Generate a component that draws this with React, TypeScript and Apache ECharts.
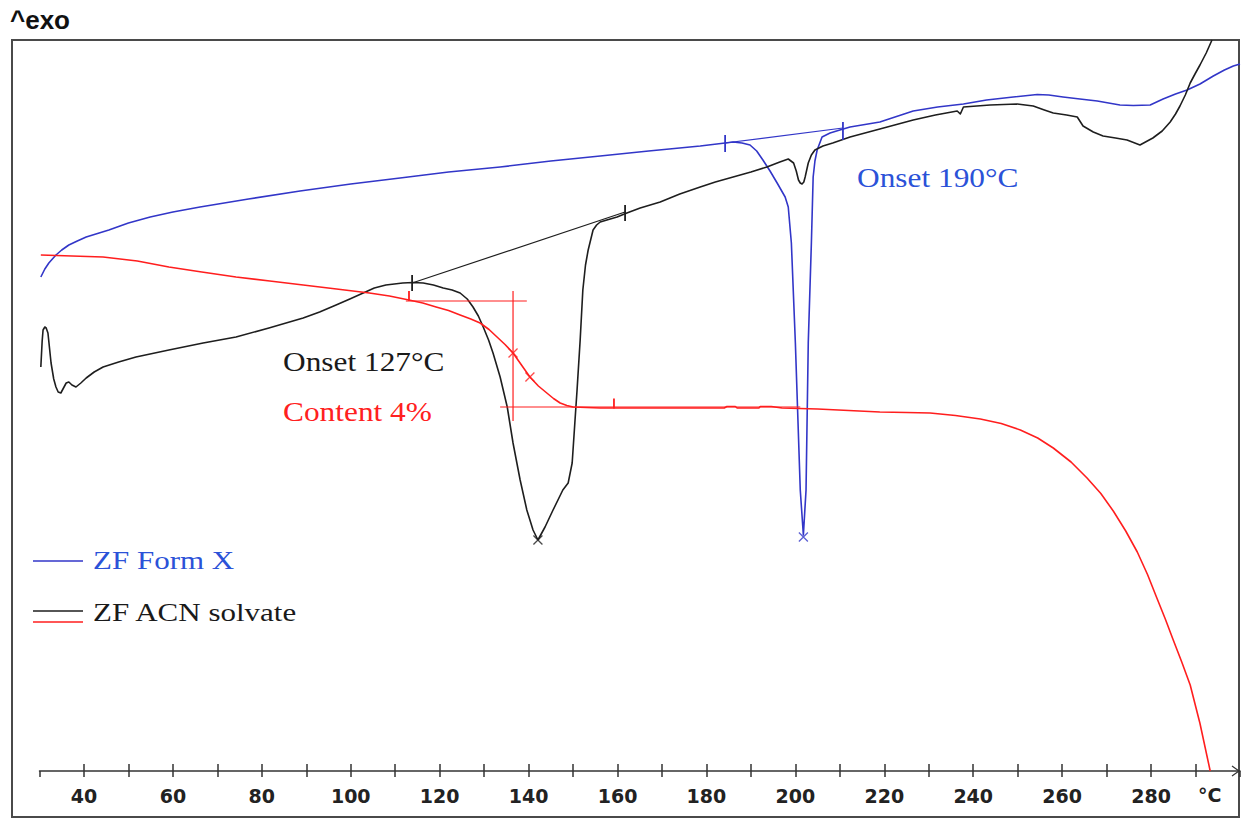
import { useEffect, useRef } from 'react';
import * as echarts from 'echarts';

// Temperature axis (°C)
const tempMin = 30;
const tempMax = 300;
const tempStep = 10;
const labelledTemps = [40, 60, 80, 100, 120, 140, 160, 180, 200, 220, 240, 260, 280];

// DSC heat flow (a.u., exo up) — ZF Form X
const formXDsc: [number, number][] = [
  [30.3, 49.4], [31.2, 50.2], [32.1, 50.8], [33.7, 51.6], [35.0, 52.1], [36.6, 52.6], [38.5, 53.0],
  [40.5, 53.4], [45.6, 54.1], [50.0, 54.8], [54.9, 55.4], [60.0, 55.9], [66.1, 56.4], [77.0, 57.2],
  [88.6, 58.0], [100.0, 58.7], [111.1, 59.3], [122.0, 59.9], [133.6, 60.4], [145.0, 61.0],
  [156.1, 61.5], [167.0, 62.0], [178.6, 62.5], [184.2, 62.8], [186.0, 62.9], [188.0, 62.8],
  [189.8, 62.6], [191.3, 62.0], [192.7, 61.1], [194.3, 60.0], [195.9, 58.8], [197.7, 57.4],
  [198.4, 56.4], [199.1, 52.8], [200.0, 42.8], [201.1, 28.1], [201.8, 23.6], [202.4, 28.1],
  [202.9, 42.8], [203.6, 52.8], [204.0, 59.4], [204.4, 61.0], [204.9, 62.1], [206.0, 63.4],
  [207.8, 63.8], [210.0, 64.1], [212.3, 64.4], [219.0, 64.9], [226.5, 66.0], [232.0, 66.4],
  [237.8, 66.7], [243.0, 67.1], [249.0, 67.4], [254.4, 67.65], [257.0, 67.6], [260.2, 67.4],
  [264.0, 67.2], [267.9, 67.0], [273.0, 66.6], [276.0, 66.55], [279.8, 66.6], [282.7, 67.2],
  [285.5, 67.7], [288.1, 68.1], [291.0, 68.7], [294.0, 69.5], [296.5, 70.1], [298.5, 70.5],
  [300.0, 70.7],
];

// DSC heat flow (a.u.) — ZF ACN solvate
const acnDsc: [number, number][] = [
  [30.3, 40.4], [30.6, 43.0], [30.8, 44.1], [31.2, 44.4], [31.5, 44.3], [31.9, 43.8],
  [32.6, 40.8], [33.2, 39.2], [33.7, 38.4], [34.2, 37.9], [34.8, 37.8], [35.4, 38.3],
  [36.0, 38.8], [36.6, 38.9], [37.3, 38.6], [38.2, 38.4], [39.3, 38.8], [40.5, 39.3],
  [42.3, 39.9], [44.3, 40.4], [47.8, 40.9], [51.7, 41.4], [59.1, 42.1], [66.8, 42.8],
  [74.2, 43.4], [81.6, 44.3], [89.3, 45.3], [93.0, 45.9], [96.7, 46.6], [99.8, 47.2],
  [102.8, 47.8], [105.3, 48.3], [107.9, 48.6], [111.7, 48.8], [114.0, 48.85], [116.3, 48.8],
  [118.6, 48.6], [120.8, 48.3], [122.8, 48.1], [124.6, 47.8], [126.2, 47.2], [127.5, 46.4],
  [128.7, 45.5], [129.8, 44.4], [131.0, 43.1], [132.0, 41.8], [133.6, 39.4], [135.2, 36.4],
  [136.5, 32.8], [138.1, 29.1], [139.6, 26.1], [141.0, 24.1], [142.1, 23.1], [143.7, 24.4],
  [145.5, 26.1], [147.7, 28.1], [148.9, 28.8], [149.8, 30.8], [150.4, 34.8], [150.9, 38.1],
  [151.6, 43.1], [152.2, 48.1], [152.8, 50.6], [153.4, 52.1], [154.5, 54.1], [155.3, 54.6],
  [156.1, 54.9], [157.6, 55.1], [159.9, 55.4], [162.1, 55.8], [165.1, 56.3], [169.6, 56.9],
  [174.0, 57.7], [178.6, 58.4], [182.0, 58.9], [186.0, 59.4], [190.0, 59.9], [193.6, 60.4],
  [196.5, 60.9], [198.4, 61.2], [199.6, 60.8], [200.2, 60.0], [200.7, 59.1], [201.1, 58.8],
  [201.5, 58.7], [201.9, 58.9], [202.2, 59.4], [202.9, 60.8], [203.6, 61.6], [204.4, 62.1],
  [206.2, 62.5], [208.4, 62.8], [212.3, 63.4], [219.0, 64.2], [226.5, 65.1], [231.5, 65.6],
  [236.4, 66.0], [237.1, 65.7], [237.8, 66.4], [243.8, 66.6], [249.9, 66.7], [253.5, 66.5],
  [256.0, 66.1], [258.0, 65.8], [261.0, 65.6], [263.4, 65.4], [264.7, 64.5], [267.0, 63.9],
  [269.2, 63.5], [272.0, 63.3], [274.6, 63.1], [277.5, 62.6], [280.4, 63.3], [282.5, 64.0],
  [284.3, 64.9], [285.5, 65.7], [286.5, 66.5], [287.7, 67.6], [288.8, 68.8], [290.0, 69.8],
  [291.0, 70.6], [292.4, 71.8], [293.7, 73.1],
];

// TGA weight (%) — ZF ACN solvate
const acnTga: [number, number][] = [
  [30.3, 100.04], [44.3, 99.96], [52.0, 99.8], [59.1, 99.56], [66.5, 99.36], [74.2, 99.16],
  [81.8, 99.0], [89.3, 98.84], [96.8, 98.68], [104.2, 98.52], [108.7, 98.4], [113.1, 98.24],
  [116.2, 98.12], [119.2, 97.96], [122.0, 97.82], [124.6, 97.64], [127.0, 97.48], [129.1, 97.32],
  [131.1, 97.06], [132.9, 96.76], [134.7, 96.46], [136.5, 96.12], [138.4, 95.64], [140.3, 95.16],
  [142.2, 94.8], [144.1, 94.52], [145.6, 94.3], [147.1, 94.12], [148.6, 94.02], [150.0, 93.96],
  [156.1, 93.92], [178.6, 93.92], [184.0, 93.92], [184.6, 93.98], [186.5, 93.98], [186.9, 93.92],
  [191.8, 93.92], [192.1, 93.98], [194.6, 93.98], [197.0, 93.92], [205.0, 93.88], [212.0, 93.82],
  [219.0, 93.76], [225.0, 93.74], [230.3, 93.72], [236.0, 93.62], [241.6, 93.48], [246.3, 93.3],
  [250.6, 93.04], [254.5, 92.72], [258.0, 92.32], [262.0, 91.76], [265.6, 91.12], [268.7, 90.5],
  [271.5, 89.8], [274.3, 89.0], [276.9, 88.16], [279.2, 87.26], [281.3, 86.32], [283.2, 85.48],
  [284.9, 84.68], [286.9, 83.76], [288.8, 82.84], [291.0, 81.3], [293.3, 79.4],
];

// Evaluation annotations
const acnBaseline: [number, number][] = [[113.8, 48.8], [161.7, 55.9]];
const acnBaseTicks: [number, number][][] = [[[113.8, 49.6], [113.8, 48.0]], [[161.7, 56.6], [161.7, 55.0]]];
const formXBaseline: [number, number][] = [[184.2, 62.8], [210.7, 64.3]];
const formXBaseTicks: [number, number][][] = [[[184.2, 63.6], [184.2, 61.9]], [[210.7, 64.9], [210.7, 63.1]]];
const tgaUpperTangent: [number, number][] = [[112.4, 98.2], [139.6, 98.2]];
const tgaStepLine: [number, number][] = [[136.5, 98.6], [136.5, 93.4]];
const tgaLowerTangent: [number, number][] = [[133.6, 93.96], [201.1, 93.96]];
const tgaTicks: [number, number][][] = [[[113.1, 98.6], [113.1, 98.2]], [[159.2, 94.3], [159.2, 93.9]]];
const tgaCrosses: [number, number][] = [[136.5, 96.12], [140.3, 95.16]];
const acnPeak: [number, number][] = [[142.1, 23.1]];
const formXPeak: [number, number][] = [[201.8, 23.4]];

const BLUE = '#3236c8';
const BLACK = '#1e1e1e';
const RED = '#ff1e1e';
const CROSS = 'path://M0 0L10 10M10 0L0 10';

export default function App() {
  const ref = useRef<HTMLDivElement>(null);

  useEffect(() => {
    if (!ref.current) return;
    const chart = echarts.init(ref.current, undefined, { renderer: 'svg' });

    const seg = (data: [number, number][], color: string, yIdx: number, w = 1.2) => ({
      type: 'line',
      data,
      yAxisIndex: yIdx,
      symbol: 'none',
      silent: true,
      lineStyle: { color, width: w },
      z: 3,
    });
    const cross = (data: [number, number][], color: string, yIdx: number) => ({
      type: 'scatter',
      data,
      yAxisIndex: yIdx,
      symbol: CROSS,
      symbolSize: 9,
      silent: true,
      itemStyle: { color: 'none', borderColor: color, borderWidth: 1.3 },
      z: 4,
    });
    const curve = (name: string, data: [number, number][], color: string, yIdx: number) => ({
      name,
      type: 'line',
      data,
      yAxisIndex: yIdx,
      symbol: 'none',
      smooth: false,
      lineStyle: { color, width: 1.6, join: 'round' },
      z: 2,
    });

    const serif = '"Liberation Serif", "Times New Roman", serif';

    chart.setOption({
      animation: false,
      backgroundColor: '#ffffff',
      grid: { left: 39.5, right: 3, top: 40, bottom: 47, containLabel: false },
      xAxis: [
        {
          type: 'value',
          min: tempMin,
          max: tempMax,
          interval: tempStep,
          axisLine: { show: true, lineStyle: { color: '#333', width: 1.5 } },
          axisTick: { show: true, inside: true, length: 7, lineStyle: { color: '#333', width: 1.5 } },
          splitLine: { show: false },
          axisLabel: {
            margin: 15,
            color: '#222',
            fontFamily: '"DejaVu Sans", Verdana, sans-serif',
            fontWeight: 'bold',
            fontSize: 19,
            showMinLabel: false,
            showMaxLabel: false,
            formatter: (v: number) => (labelledTemps.includes(v) ? String(v) : ''),
          },
        },
        {
          type: 'value',
          min: tempMin,
          max: tempMax,
          interval: tempStep,
          position: 'bottom',
          axisLine: { show: false },
          axisTick: { show: true, inside: false, length: 6, lineStyle: { color: '#333', width: 1.5 } },
          splitLine: { show: false },
          axisLabel: { show: false },
        },
      ],
      yAxis: [
        { type: 'value', min: 0, max: 73.1, show: false },
        { type: 'value', min: 79.4, max: 108.64, show: false },
      ],
      series: [
        curve('ZF Form X', formXDsc, BLUE, 0),
        curve('ZF ACN solvate DSC', acnDsc, BLACK, 0),
        curve('ZF ACN solvate TGA', acnTga, RED, 1),
        seg(acnBaseline, BLACK, 0),
        ...acnBaseTicks.map((d) => seg(d, BLACK, 0, 1.8)),
        seg(formXBaseline, BLUE, 0),
        ...formXBaseTicks.map((d) => seg(d, BLUE, 0, 1.8)),
        seg(tgaUpperTangent, RED, 1),
        seg(tgaStepLine, RED, 1),
        seg(tgaLowerTangent, RED, 1),
        ...tgaTicks.map((d) => seg(d, RED, 1, 1.8)),
        cross(tgaCrosses, RED, 1),
        cross(acnPeak, BLACK, 0),
        cross(formXPeak, BLUE, 0),
      ],
      graphic: [
        {
          type: 'rect',
          shape: { x: 12, y: 40, width: 1227, height: 777 },
          style: { fill: 'none', stroke: '#4a4a4a', lineWidth: 2 },
          silent: true,
        },
        {
          type: 'polyline',
          shape: { points: [[1232, 766], [1239, 771], [1232, 776]] },
          style: { fill: 'none', stroke: '#333', lineWidth: 1.2 },
          silent: true,
        },
        {
          type: 'text',
          x: 10,
          y: 20,
          style: { text: '^exo', font: 'bold 26px "Liberation Sans", Arial, sans-serif', fill: '#111', verticalAlign: 'middle' },
        },
        {
          type: 'text',
          x: 1198,
          y: 795,
          style: { text: '°C', font: 'bold 19px "DejaVu Sans", Verdana, sans-serif', fill: '#222', verticalAlign: 'middle' },
        },
        {
          type: 'text',
          x: 283,
          y: 362,
          scaleX: 1.12,
          style: { text: 'Onset 127°C', font: `28px ${serif}`, fill: '#1a1a1a', verticalAlign: 'middle' },
        },
        {
          type: 'text',
          x: 283,
          y: 412,
          scaleX: 1.12,
          style: { text: 'Content 4%', font: `28px ${serif}`, fill: '#ff2020', verticalAlign: 'middle' },
        },
        {
          type: 'text',
          x: 857,
          y: 178,
          scaleX: 1.12,
          style: { text: 'Onset 190°C', font: `28px ${serif}`, fill: '#2b52d8', verticalAlign: 'middle' },
        },
        {
          type: 'line',
          shape: { x1: 33, y1: 561, x2: 83, y2: 561 },
          style: { stroke: BLUE, lineWidth: 1.6 },
        },
        {
          type: 'text',
          x: 93,
          y: 561,
          scaleX: 1.24,
          style: { text: 'ZF Form X', font: `25px ${serif}`, fill: '#2b52d8', verticalAlign: 'middle' },
        },
        {
          type: 'line',
          shape: { x1: 33, y1: 611, x2: 83, y2: 611 },
          style: { stroke: BLACK, lineWidth: 1.6 },
        },
        {
          type: 'line',
          shape: { x1: 33, y1: 622, x2: 83, y2: 622 },
          style: { stroke: RED, lineWidth: 1.6 },
        },
        {
          type: 'text',
          x: 93,
          y: 613,
          scaleX: 1.24,
          style: { text: 'ZF ACN solvate', font: `25px ${serif}`, fill: '#1a1a1a', verticalAlign: 'middle' },
        },
      ],
    });

    return () => chart.dispose();
  }, []);

  return <div ref={ref} style={{ position: 'absolute', left: 0, top: 0, width: 1243, height: 818 }} />;
}
